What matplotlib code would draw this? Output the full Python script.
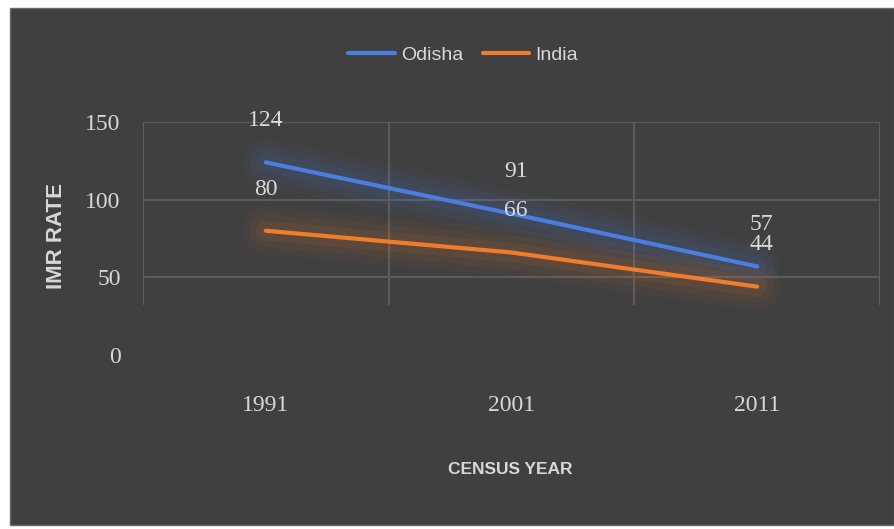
import matplotlib
matplotlib.use("Agg")
import matplotlib.pyplot as plt
from matplotlib.patches import Rectangle
import numpy as np

# --------------------------------------------------
# Data
# --------------------------------------------------
years = ["1991", "2001", "2011"]
odisha = [124, 91, 57]
india = [80, 66, 44]
y_ticks = [0, 50, 100, 150]

BG = "#404040"
GRID = "#5b5b5b"
TXT = "#d8d8d8"
BLUE = "#4a7ee0"
ORANGE = "#f07d2c"
LABEL_FONT = "Liberation Sans"
NUM_FONT = "Liberation Serif"

fig = plt.figure(figsize=(8.94, 5.29), dpi=100, facecolor="white")

# dark chart panel with thin white margin
fig.patches.append(Rectangle((10 / 894, 4 / 529), 884 / 894, 517 / 529,
                             transform=fig.transFigure, facecolor=BG,
                             edgecolor="#6a6a6a", linewidth=1.0, zorder=-5))

ax = fig.add_axes([143 / 894, 1 - 355 / 529, 737 / 894, (355 - 122) / 529])
ax.set_zorder(2)
ax.set_facecolor("none")
for s in ax.spines.values():
    s.set_visible(False)

x = np.arange(len(years))
ax.set_xlim(-0.5, len(years) - 0.5)
ax.set_ylim(0, 150)

# gridlines
ax.hlines(y_ticks[1:], -0.5, len(years) - 0.5, color=GRID, lw=1.5, zorder=1)
ax.vlines(np.arange(len(years) + 1) - 0.5, 32, 150, color=GRID, lw=1.5, zorder=1)

# glowing lines
for vals, col, name in [(odisha, BLUE, "Odisha"), (india, ORANGE, "India")]:
    for lw, a in [(34, 0.045), (24, 0.06), (14, 0.08)]:
        ax.plot(x, vals, color=col, lw=lw, alpha=a, solid_capstyle="round", zorder=2)
    ax.plot(x, vals, color=col, lw=3, solid_capstyle="round", zorder=3, label=name)

# data labels
for vals in (odisha, india):
    for i, v in enumerate(vals):
        ax.annotate(str(v), (x[i], v), xytext=(3 if i else 0, 30),
                    textcoords="offset points", ha="center", va="center",
                    fontsize=17, color=TXT, family=NUM_FONT, zorder=4,
                    annotation_clip=False)

ax.set_xticks(x)
ax.set_xticklabels(years)
ax.set_yticks(y_ticks)
ax.tick_params(axis="x", length=0, pad=29, labelsize=17, labelcolor=TXT)
ax.tick_params(axis="y", length=0, pad=16, labelsize=17, labelcolor=TXT)
for lab in ax.get_xticklabels() + ax.get_yticklabels():
    lab.set_family(NUM_FONT)

fig.text(57 / 894, 1 - 236 / 529, "IMR RATE", rotation=90, ha="center", va="center",
         fontsize=16, fontweight="bold", color=TXT, family=LABEL_FONT)
fig.text(510 / 894, 1 - 470 / 529, "CENSUS YEAR", ha="center", va="center",
         fontsize=12.5, fontweight="bold", color=TXT, family=LABEL_FONT)

handles, names = ax.get_legend_handles_labels()
leg = fig.legend(handles, names, loc="center", bbox_to_anchor=(463 / 894, 1 - 55 / 529),
                 ncol=2, frameon=False, handlelength=2.4, columnspacing=1.0,
                 handletextpad=0.3, prop={"family": LABEL_FONT, "size": 14})
for t in leg.get_texts():
    t.set_color(TXT)

fig.savefig("out.png", dpi=100, facecolor="white")
